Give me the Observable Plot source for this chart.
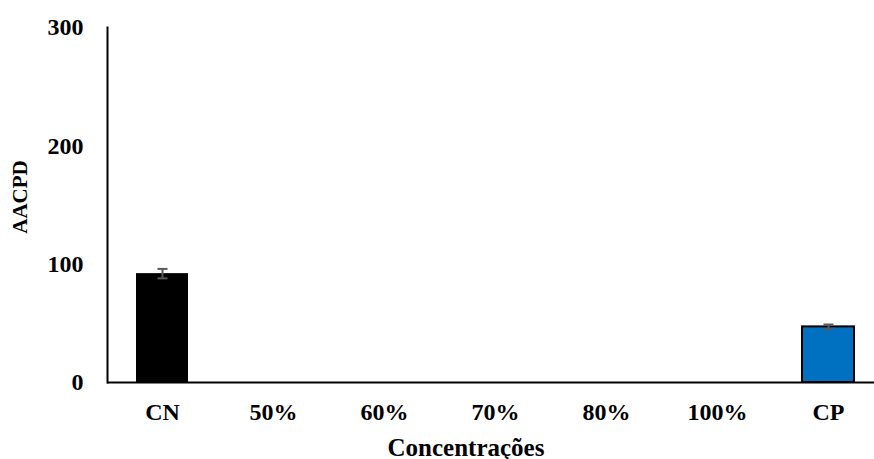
<!DOCTYPE html>
<html>
<head>
<meta charset="utf-8">
<script src="https://cdn.jsdelivr.net/npm/d3@7"></script>
<script src="https://cdn.jsdelivr.net/npm/@observablehq/plot@0.6"></script>
<style>
  html, body { margin: 0; padding: 0; background: #fff; }
  #chart svg { display: block; }
</style>
</head>
<body>
<div id="chart"></div>
<script>
// AACPD by treatment concentration (mean ± error)
const categories = ["CN", "50%", "60%", "70%", "80%", "100%", "CP"];
const means = [92, 0, 0, 0, 0, 0, 47];
const errors = [4, 0, 0, 0, 0, 0, 2];
const yTicks = [0, 100, 200, 300];
const fills = ["#000000", "#000000", "#000000", "#000000", "#000000", "#000000", "#0070C0"];
const strokes = ["none", "none", "none", "none", "none", "none", "#000000"];

const rows = categories.map((c, i) => ({
  cat: c, mean: means[i], err: errors[i], fill: fills[i], stroke: strokes[i]
}));
const withErr = rows.filter(d => d.err > 0);

// horizontal cap for the error bars
const capSymbol = {
  draw(context, size) {
    const w = 5;
    context.moveTo(-w, 0);
    context.lineTo(w, 0);
  }
};

const font = "'Liberation Serif', 'Times New Roman', serif";

const chart = Plot.plot({
  width: 874,
  height: 459,
  marginTop: 27,
  marginBottom: 77,
  marginLeft: 107,
  marginRight: 0,
  style: { fontFamily: font, fontSize: "24px", fontWeight: "bold", color: "#000", background: "#fff" },
  x: {
    domain: categories,
    range: [107, 884],
    paddingInner: 0.53,
    paddingOuter: 0.265,
    axis: null
  },
  y: { domain: [0, 300], axis: null },
  marks: [
    Plot.barY(rows, {
      x: "cat", y: "mean", fill: "fill", stroke: "stroke", strokeWidth: 2
    }),
    Plot.ruleX(withErr, {
      x: "cat", y1: d => d.mean - d.err, y2: d => d.mean + d.err,
      stroke: "#595959", strokeWidth: 2
    }),
    Plot.dot(withErr, {
      x: "cat", y: d => d.mean - d.err, symbol: capSymbol,
      stroke: "#595959", strokeWidth: 2, fill: "none"
    }),
    Plot.dot(withErr, {
      x: "cat", y: d => d.mean + d.err, symbol: capSymbol,
      stroke: "#595959", strokeWidth: 2, fill: "none"
    }),
    Plot.ruleY([0], { stroke: "#000", strokeWidth: 2 }),
    Plot.frame({ anchor: "left", stroke: "#000", strokeWidth: 2 }),
    Plot.axisY({
      ticks: yTicks, tickSize: 0, tickPadding: 24,
      label: null, fontSize: 24, fontWeight: "bold", fill: "#000"
    }),
    Plot.axisX({
      tickSize: 0, tickPadding: 20, label: null,
      fontSize: 24, fontWeight: "bold", fill: "#000"
    }),
    Plot.text(["AACPD"], {
      frameAnchor: "left", rotate: -90, textAnchor: "middle",
      dx: -87, dy: -8, fontSize: 21, fontWeight: "bold", fill: "#000"
    }),
    Plot.text(["Concentrações"], {
      frameAnchor: "bottom", textAnchor: "middle",
      dx: -25, dy: 73, fontSize: 25, fontWeight: "bold", fill: "#000",
      letterSpacing: "1.5px"
    })
  ]
});

document.getElementById("chart").appendChild(chart);
</script>
</body>
</html>
